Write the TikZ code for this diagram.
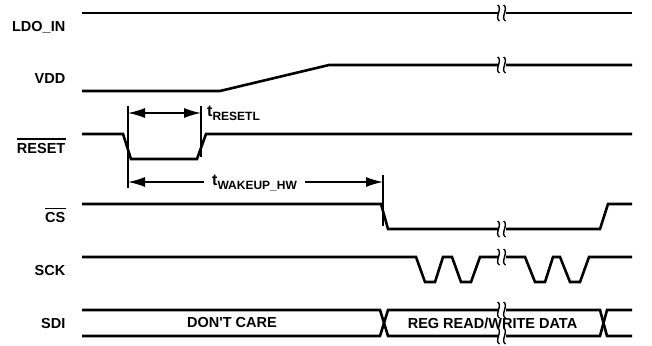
\documentclass[tikz,border=0pt]{standalone}
\usepackage{fontspec}
\setmainfont{Liberation Sans}[Ligatures=TeXOff]
\usetikzlibrary{arrows.meta}

\begin{document}
\begin{tikzpicture}[x=1pt,y=-1pt,>={Latex[length=17pt,width=10pt]},
  wave/.style={line width=2.6pt},
  dimline/.style={line width=1.4pt},
  signame/.style={anchor=base east,inner sep=0pt,font=\fontsize{14.5}{17}\selectfont\bfseries},
  buslabel/.style={inner sep=0pt,font=\fontsize{14.5}{17}\selectfont\bfseries},
  tlabel/.style={anchor=base west,inner sep=0pt,font=\fontsize{16}{18}\selectfont\bfseries}]
\useasboundingbox (0,0) rectangle (652,345);
% signal names
\node[signame] (ldo) at (65.5,31) {LDO\_IN};
\node[signame] (vdd) at (65.5,83) {VDD};
\node[signame] (rst) at (65.5,153) {RESET};
\node[signame] (cs) at (65.5,222) {CS};
\node[signame] (sck) at (65.5,275) {SCK};
\node[signame] (sdi) at (65.5,328) {SDI};
\draw[dimline] ([yshift=3.5pt]rst.north west) -- ([yshift=3.5pt]rst.north east);
\draw[dimline] ([yshift=3pt]cs.north west) -- ([yshift=3pt]cs.north east);
% waveforms
\draw[wave] (82,13) -- (632,13);
\draw[wave] (82,91) -- (220,91) -- (329,65) -- (632,65);
\draw[wave] (82,134) -- (123,134) -- (131,159) -- (197,159) -- (206,134) -- (632,134);
\draw[wave] (82,204) -- (381,204) -- (388,229) -- (600,229) -- (608,204) -- (632,204);
\draw[wave] (82,257) -- (416,257) -- (425,282) -- (435,282) -- (443,257) -- (452,257)
  -- (461,282) -- (471,282) -- (480,257) -- (525,257) -- (535,282) -- (545,282)
  -- (553,257) -- (560,257) -- (570,282) -- (580,282) -- (589,257) -- (632,257);
% SDI bus
\draw[wave] (82,310) -- (380,310) -- (388,336) -- (600,336) -- (607,310) -- (632,310);
\draw[wave] (82,336) -- (380,336) -- (388,310) -- (600,310) -- (607,336) -- (632,336);
\node[buslabel] (dc) at (232,323) {DON'T CARE};
\node[buslabel] (rw) at (492.5,323) {REG READ/WRITE DATA};
% time breaks
\foreach \y in {13,65,229,257,310,336}{
  \fill[white] (498.5,\y-2.5) rectangle (505.5,\y+2.5);
  \draw[line width=1.4pt] (497.5,\y-8) .. controls (503,\y-5) and (494,\y+5) .. (499.5,\y+8);
  \draw[line width=1.4pt] (503.5,\y-8) .. controls (509,\y-5) and (500,\y+5) .. (505.5,\y+8);
}
% t_RESETL
\coordinate (rsL) at (128,113);
\coordinate (rsR) at (201,113);
\draw[dimline] (128,106) -- (128,188);
\draw[dimline] (201,106) -- (201,157);
\draw[dimline,<->] (rsL) -- (rsR);
\node[tlabel] (trst) at (207,116.5) {t\raisebox{-4pt}{\fontsize{12}{14}\selectfont RESETL}};
% t_WAKEUP_HW
\coordinate (wkL) at (128,182);
\coordinate (wkR) at (383,182);
\draw[dimline] (383,175) -- (383,226);
\node[tlabel,inner xsep=8pt] (twk) at (204,185) {t\raisebox{-4pt}{\fontsize{12}{14}\selectfont WAKEUP\_HW}};
\draw[dimline,->] (wkL -| twk.west) -- (wkL);
\draw[dimline,->] (wkR -| twk.east) -- (wkR);
\end{tikzpicture}
\end{document}
